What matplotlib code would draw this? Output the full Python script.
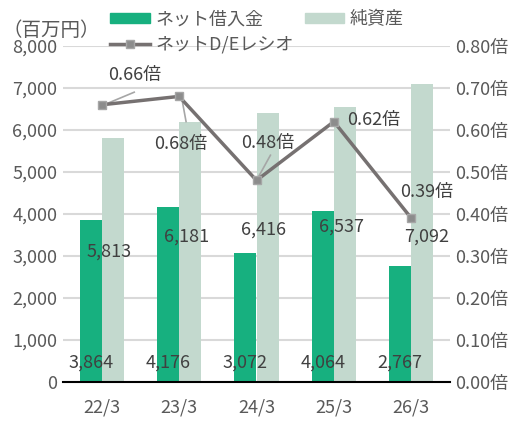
import matplotlib
matplotlib.use("Agg")
import matplotlib.pyplot as plt
import numpy as np
from matplotlib.lines import Line2D
from matplotlib.patches import Patch

plt.rcParams['font.family'] = ['Noto Sans CJK JP', 'DejaVu Sans']

categories = ["22/3", "23/3", "24/3", "25/3", "26/3"]
net_debt = [3864, 4176, 3072, 4064, 2767]
net_assets = [5813, 6181, 6416, 6537, 7092]
de_ratio = [0.66, 0.68, 0.48, 0.62, 0.39]
left_ticks = [0, 1000, 2000, 3000, 4000, 5000, 6000, 7000, 8000]
right_ticks = [0.0, 0.1, 0.2, 0.3, 0.4, 0.5, 0.6, 0.7, 0.8]

GREEN = "#17B07F"
LIGHT = "#C3D9CE"
LINE = "#767171"
TXT = "#595959"
GRID = "#D9D9D9"
FS = 13

fig = plt.figure(figsize=(5.23, 4.34), dpi=100)
ax = fig.add_axes([63/523, 52/434, 387/523, 336/434])
x = np.arange(len(categories))
w = 0.285

ax.bar(x - w/2, net_debt, w, color=GREEN, zorder=2)
ax.bar(x + w/2, net_assets, w, color=LIGHT, zorder=2)
ax.set_xlim(-0.5, len(categories) - 0.5)
ax.set_ylim(0, 8000)
ax.set_yticks(left_ticks)
ax.set_yticklabels([f"{v:,}" for v in left_ticks])
ax.set_xticks(x)
ax.set_xticklabels(categories)
ax.grid(axis='y', color=GRID, linewidth=1.5, zorder=0)
ax.set_axisbelow(True)
for s in ['top', 'right', 'left']:
    ax.spines[s].set_visible(False)
ax.spines['bottom'].set_color('black')
ax.spines['bottom'].set_linewidth(1.5)
ax.tick_params(axis='both', length=0, labelsize=FS, colors=TXT)
ax.tick_params(axis='x', pad=12)
ax.tick_params(axis='y', pad=4)

# bar data labels
for i, v in enumerate(net_debt):
    ax.text(x[i] - w/2, 460, f"{v:,}", ha='center', va='center', fontsize=FS, color='#404040', zorder=5)
asset_label_y = [3100, 3460, 3620, 3700, 3450]
for i, v in enumerate(net_assets):
    ax.text(x[i] + w/2 - 0.05 + (0.1 if i == 4 else 0), asset_label_y[i], f"{v:,}", ha='center', va='center',
            fontsize=FS, color='#404040', zorder=5)

ax2 = ax.twinx()
ax2.set_ylim(0, 0.8)
ax2.set_yticks(right_ticks)
ax2.set_yticklabels([f"{v:.2f}倍" for v in right_ticks])
for s in ['top', 'right', 'left', 'bottom']:
    ax2.spines[s].set_visible(False)
ax2.tick_params(axis='y', length=0, labelsize=FS, colors=TXT, pad=4)
ax2.plot(x, de_ratio, color=LINE, linewidth=2.5, marker='s', markersize=5.5,
         markerfacecolor='#8C8C8C', markeredgecolor='#A6A6A6', markeredgewidth=1, zorder=4)

# ratio labels (offsets in data coords on ax2)
lab_pos = [(0.43, 0.73), (0.02, 0.567), (0.15, 0.57), (0.52, 0.623), (0.2, 0.452)]
leaders = [((0.03, 0.0), (0.42, 0.03)), ((0.03, 0.0), (0.09, -0.06)), ((0.03, 0.01), (0.18, 0.06)), None, None]
for i, v in enumerate(de_ratio):
    dx, yy = lab_pos[i]
    ax2.text(x[i] + dx, yy, f"{v:.2f}倍", ha='center', va='center', fontsize=FS, color='#404040', zorder=6)
    if leaders[i] is not None:
        (a, b), (c, d) = leaders[i]
        ax2.plot([x[i] + a, x[i] + c], [v + b, v + d], color='#A6A6A6', linewidth=1.2, zorder=3)

# header
fig.text(2/523, 1 - 30/434, "（百万円）", fontsize=14, color=TXT, va='center', ha='left')
handles = [Patch(color=GREEN),
           Line2D([0], [0], color=LINE, linewidth=2.5, marker='s', markersize=5.5,
                  markerfacecolor='#8C8C8C', markeredgecolor='#A6A6A6'),
           Patch(color=LIGHT)]
labels = ["ネット借入金", "ネットD/Eレシオ", "純資産"]
leg = fig.legend(handles, labels, loc='upper left', bbox_to_anchor=(94/523, 1 + 6/434), ncol=2,
                 frameon=False, fontsize=FS, handlelength=2.2, handleheight=0.5,
                 columnspacing=0.6, handletextpad=0.3, labelspacing=0.4)
for t in leg.get_texts():
    t.set_color(TXT)

fig.savefig("out.png", dpi=100)
